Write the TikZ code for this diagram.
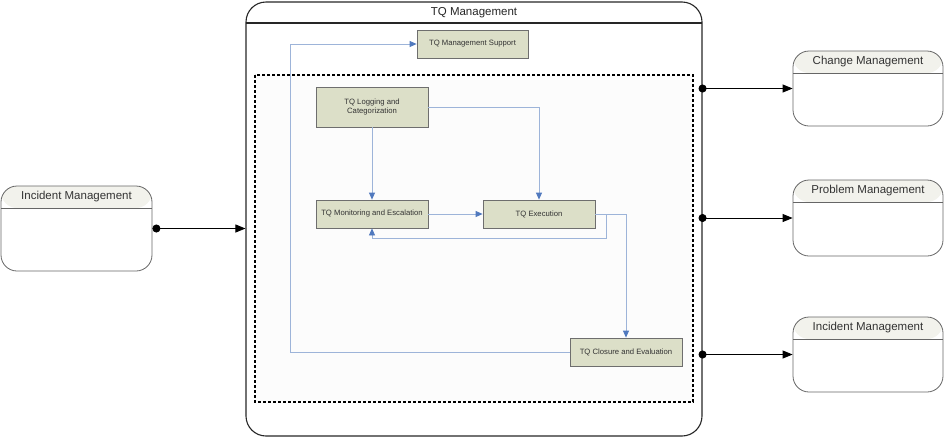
\documentclass[tikz,border=0pt]{standalone}
\usepackage{fontspec}
\setmainfont{Liberation Sans}
\usetikzlibrary{arrows.meta, positioning}

\definecolor{fondEtape}{HTML}{DCDFC8}
\definecolor{bordEtape}{HTML}{6E6E6E}
\definecolor{traitBleu}{HTML}{9DB4D9}
\definecolor{pointeBleue}{HTML}{5079BE}
\definecolor{fondZone}{HTML}{FCFCFC}
\definecolor{fondEntete}{HTML}{F2F2EC}

\begin{document}
\begin{tikzpicture}[x=1pt,y=-1pt,
  etape/.style={draw=bordEtape, fill=fondEtape, line width=0.8pt, minimum width=112pt,
    minimum height=28pt, inner sep=1pt, font=\fontsize{7.7}{9.2}\selectfont, text=black!80, align=center},
  flux/.style={draw=traitBleu, line width=0.8pt, -{Triangle[length=7pt,width=6pt,color=pointeBleue]}},
  liaison/.style={line width=0.9pt, {Circle[length=8pt]}-{Triangle[length=10pt,width=8pt]}},
  processus/.style={draw=black!60, line width=0.8pt, rounded corners=16pt, minimum width=150pt,
    minimum height=76pt, inner sep=0pt,
    path picture={\fill[fondEntete] (path picture bounding box.north west) rectangle
      ([yshift=-22pt]path picture bounding box.north east);
      \draw[black!60, line width=0.8pt] ([yshift=-22pt]path picture bounding box.north west) --
      ([yshift=-22pt]path picture bounding box.north east);}},
  titre/.style={font=\fontsize{11.5}{13}\selectfont, text=black!80, inner sep=0pt},
  zone/.style={draw=black, fill=fondZone, line width=1.8pt, dash pattern=on 3pt off 2pt}]

\useasboundingbox (0,0) rectangle (945,445);

%% ================= bloc principal : TQ Management =========================
\node[draw=black!85, line width=1.1pt, rounded corners=20pt, minimum width=456pt, minimum height=434pt,
  inner sep=0pt, path picture={\draw[black!85, line width=1.1pt]
    ([yshift=-21pt]path picture bounding box.north west) -- ([yshift=-21pt]path picture bounding box.north east);}]
  (tq) at (474,219) {};
\node[font=\fontsize{11.5}{13}\selectfont, text=black!85, inner sep=0pt] (tqtitre) at ([yshift=-11pt]tq.north) {TQ Management};

\draw[zone] (255,75) rectangle (693,402);

%% ================= étapes ================================================
\node[etape, minimum width=111pt] (supp)  at (472.5,44) {TQ Management Support};
\node[etape, minimum height=40pt] (logg)  at (372,107)  {TQ Logging and\\Categorization};
\node[etape] (monit) at (372,214) {TQ Monitoring and Escalation};
\node[etape] (exec)  at (539,214) {TQ Execution};
\node[etape] (clos)  at (626,352) {TQ Closure and Evaluation};

\draw[flux] (logg) -- (monit);
\draw[flux] (logg) -| (exec);
\draw[flux] (monit) -- (exec);
\draw[flux] (exec) -| (clos);
\draw[flux] (exec.east) -- ++(11pt,0) |- ([yshift=-10pt]monit.south) -- (monit.south);
\draw[flux] (clos.west) -- ++(-279pt,0) |- (supp.west);

%% ================= processus voisins =====================================
\node[processus, minimum width=151pt, minimum height=85pt] (incG) at (76.5,228.5) {};
\node[titre] (incGtitre) at ([yshift=-11pt]incG.north) {Incident Management};

\node[processus, minimum height=75pt] (chg)  at (868,88.5) {};
\node[titre] (chgtitre) at ([yshift=-11pt]chg.north) {Change Management};

\node[processus] (prob) at (868,218) {};
\node[titre] (probtitre) at ([yshift=-11pt]prob.north) {Problem Management};

\node[processus, minimum height=75pt] (incD) at (868,354.5) {};
\node[titre] (incDtitre) at ([yshift=-11pt]incD.north) {Incident Management};

%% ================= liaisons ==============================================
\draw[liaison] (incG.east) -- (incG.east -| tq.west);
\draw[liaison, shorten <=-4pt] (tq.east |- chg.west) -- (chg.west);
\draw[liaison, shorten <=-4pt] (tq.east |- prob.west) -- (prob.west);
\draw[liaison, shorten <=-4pt] (tq.east |- incD.west) -- (incD.west);
\end{tikzpicture}
\end{document}
